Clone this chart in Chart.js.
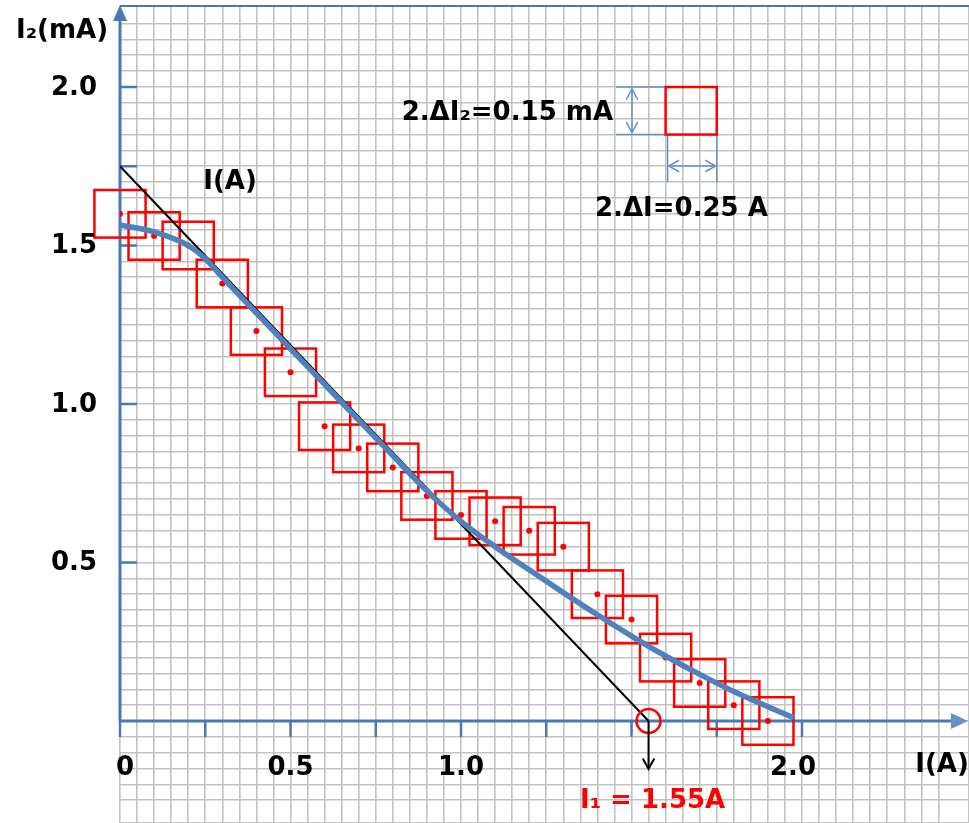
<!DOCTYPE html>
<html><head><meta charset="utf-8">
<script src="https://cdn.jsdelivr.net/npm/chart.js@4/dist/chart.umd.min.js"></script>
<style>html,body{margin:0;padding:0;background:#fff;overflow:hidden}#wrap{width:969px;height:823px;position:relative}</style>
</head><body><div id="wrap"><canvas id="c" width="969" height="823"></canvas></div>
<script>
// ---- data ----
const currentA   = [0,0.1,0.2,0.3,0.4,0.5,0.6,0.7,0.8,0.9,1.0,1.1,1.2,1.3,1.4,1.5,1.6,1.7,1.8,1.9];
const currentMA  = [1.60,1.53,1.50,1.38,1.23,1.10,0.93,0.86,0.80,0.71,0.65,0.63,0.60,0.55,0.40,0.32,0.20,0.12,0.05,0.00];
const fitA       = [0,0.1,0.2,0.25,0.3,0.4,0.5,0.6,0.7,0.8,0.9,1.0,1.1,1.2,1.3,1.4,1.5,1.6,1.7,1.8,1.9,1.97];
const fitMA      = [1.565,1.543,1.50,1.458,1.40,1.287,1.174,1.062,0.949,0.837,0.726,0.63,0.55,0.477,0.405,0.335,0.268,0.205,0.147,0.093,0.045,0.013];
const tangentA   = [0,1.55];
const tangentMA  = [1.75,0];
const errWidthA  = 0.15;   // full width of each error box (A)
const errHeightMA= 0.15;   // full height of each error box (mA)
const xTicks     = [0,0.25,0.5,0.75,1.0,1.25,1.5,1.75,2.0];
const xLabelVals = [0,0.5,1.0,2.0];
const xLabels    = ['0','0.5','1.0','2.0'];
const yTicks     = [0.5,1.0,1.5,1.75,2.0];
const yLabelVals = [0.5,1.0,1.5,2.0];
const yLabels    = ['0.5','1.0','1.5','2.0'];
const interceptA = 1.55;
const texts = {
  yTitle: 'I\u2082(mA)', xTitle: 'I(A)', lineLabel: 'I(A)',
  dI2: '2.\u0394I\u2082=0.15 mA', dI: '2.\u0394I=0.25 A', result: 'I\u2081 = 1.55A'
};

// ---- layout ----
const X_MAX = 849/341, Y_MIN = -102/317, Y_MAX = 715/317;
const AXIS = 'rgb(74,120,180)', LBLUE = 'rgb(100,145,200)', RED = '#ff0000';
const FONT = 'bold 26px "DejaVu Sans"';

function arrowHead(ctx, x, y, ang, len, open){
  ctx.beginPath();
  ctx.moveTo(x - len*Math.cos(ang - 0.5), y - len*Math.sin(ang - 0.5));
  ctx.lineTo(x, y);
  ctx.lineTo(x - len*Math.cos(ang + 0.5), y - len*Math.sin(ang + 0.5));
  if (open) ctx.stroke(); else { ctx.closePath(); ctx.fill(); }
}

const underlay = {
  id:'underlay',
  beforeDatasetsDraw(chart){
    const {ctx, scales:{x, y}} = chart;
    const x0 = x.getPixelForValue(0), y0 = y.getPixelForValue(0);
    ctx.save();
    // top frame
    ctx.strokeStyle = AXIS; ctx.lineWidth = 2;
    ctx.beginPath(); ctx.moveTo(x0, 6); ctx.lineTo(969, 6); ctx.stroke();
    // y axis
    ctx.lineWidth = 3;
    ctx.beginPath(); ctx.moveTo(x0, y0); ctx.lineTo(x0, 14); ctx.stroke();
    ctx.fillStyle = AXIS;
    ctx.beginPath(); ctx.moveTo(x0, 5); ctx.lineTo(x0-7, 21); ctx.lineTo(x0+7, 21); ctx.closePath(); ctx.fill();
    // x axis
    ctx.beginPath(); ctx.moveTo(x0, y0); ctx.lineTo(955, y0); ctx.stroke();
    ctx.fillStyle = LBLUE;
    ctx.beginPath(); ctx.moveTo(968, y0); ctx.lineTo(951, y0-8); ctx.lineTo(951, y0+8); ctx.closePath(); ctx.fill();
    // ticks
    ctx.strokeStyle = AXIS; ctx.lineWidth = 2.5;
    xTicks.forEach(v => { const px = x.getPixelForValue(v); ctx.beginPath(); ctx.moveTo(px, y0); ctx.lineTo(px, y0+16); ctx.stroke(); });
    yTicks.forEach(v => { const py = y.getPixelForValue(v); ctx.beginPath(); ctx.moveTo(x0, py); ctx.lineTo(x0+17, py); ctx.stroke(); });
    // error boxes
    ctx.strokeStyle = RED; ctx.lineWidth = 2.5;
    currentA.forEach((a, i) => {
      const l = x.getPixelForValue(a - errWidthA/2), r = x.getPixelForValue(a + errWidthA/2);
      const t = y.getPixelForValue(currentMA[i] + errHeightMA/2), b = y.getPixelForValue(currentMA[i] - errHeightMA/2);
      ctx.strokeRect(l, t, r-l, b-t);
    });
    ctx.restore();
  }
};

const overlay = {
  id:'overlay',
  afterDatasetsDraw(chart){
    const {ctx, scales:{x, y}} = chart;
    const x0 = x.getPixelForValue(0), y0 = y.getPixelForValue(0);
    ctx.save();
    ctx.textBaseline = 'middle';
    ctx.font = FONT; ctx.fillStyle = '#000';
    // tick labels
    ctx.textAlign = 'right';
    yLabelVals.forEach((v, i) => ctx.fillText(yLabels[i], 97, y.getPixelForValue(v) + 1));
    ctx.textAlign = 'center';
    xLabelVals.forEach((v, i) => ctx.fillText(xLabels[i], x.getPixelForValue(v) + (i===0?5:(i===xLabels.length-1?-9:0)), 768));
    // titles
    ctx.textAlign = 'left';
    ctx.fillText(texts.yTitle, 16, 31);
    ctx.textAlign = 'center';
    ctx.fillText(texts.xTitle, 942, 765);
    ctx.fillText(texts.lineLabel, 230, 182);
    ctx.textAlign = 'right';
    ctx.fillText(texts.dI2, 613, 113);
    ctx.textAlign = 'left';
    ctx.fillText(texts.dI, 595, 209);
    // result
    const xi = x.getPixelForValue(interceptA);
    ctx.fillStyle = RED; ctx.strokeStyle = RED; ctx.lineWidth = 2.5;
    ctx.fillText(texts.result, 580, 801);
    ctx.beginPath(); ctx.arc(xi, y0, 12, 0, Math.PI*2); ctx.stroke();
    ctx.strokeStyle = '#000'; ctx.lineWidth = 2;
    ctx.beginPath(); ctx.moveTo(xi, y0); ctx.lineTo(xi, 768); ctx.stroke();
    arrowHead(ctx, xi, 769, Math.PI/2, 12, true);
    // legend square
    const lx = x.getPixelForValue(1.6), rx = x.getPixelForValue(1.6 + errWidthA);
    const ty = y.getPixelForValue(2.0), by = y.getPixelForValue(2.0 - errHeightMA);
    ctx.strokeStyle = LBLUE; ctx.lineWidth = 1.5;
    ctx.beginPath();
    ctx.moveTo(616, ty); ctx.lineTo(lx, ty);
    ctx.moveTo(616, by); ctx.lineTo(lx, by);
    ctx.moveTo(lx+2, by); ctx.lineTo(lx+2, 182);
    ctx.moveTo(rx, by); ctx.lineTo(rx, 182);
    ctx.moveTo(632, ty+2); ctx.lineTo(632, by-2);
    ctx.moveTo(lx+3, 166); ctx.lineTo(rx-1, 166);
    ctx.stroke();
    arrowHead(ctx, 632, ty+2, -Math.PI/2, 12, true);
    arrowHead(ctx, 632, by-2, Math.PI/2, 12, true);
    arrowHead(ctx, lx+3, 166, Math.PI, 12, true);
    arrowHead(ctx, rx-1, 166, 0, 12, true);
    ctx.strokeStyle = RED; ctx.lineWidth = 2.5;
    ctx.strokeRect(lx, ty, rx-lx, by-ty);
    ctx.restore();
  }
};

const gridOpts = {color:'#c2c2c2', lineWidth:1.6, drawTicks:false};
new Chart(document.getElementById('c').getContext('2d'), {
  type:'scatter',
  data:{datasets:[
    {type:'line', data: fitA.map((a,i)=>({x:a, y:fitMA[i]})), borderColor:'rgb(79,129,189)', borderWidth:5.5,
     pointRadius:0, cubicInterpolationMode:'monotone', fill:false, borderCapStyle:'round'},
    {data: currentA.map((a,i)=>({x:a, y:currentMA[i]})), pointRadius:3, backgroundColor:RED, borderWidth:0, showLine:false},
    {type:'line', data: tangentA.map((a,i)=>({x:a, y:tangentMA[i]})), borderColor:'#000', borderWidth:2, pointRadius:0, fill:false}
  ]},
  options:{
    responsive:false, maintainAspectRatio:false, animation:false, events:[],
    layout:{padding:{left:120, top:6, right:0, bottom:0}, autoPadding:false},
    plugins:{legend:{display:false}, tooltip:{enabled:false}},
    scales:{
      x:{type:'linear', min:0, max:X_MAX, ticks:{display:false, stepSize:0.05, padding:0}, grid:gridOpts, border:{display:false},
         afterFit(s){ s.height = 0; }},
      y:{type:'linear', min:Y_MIN, max:Y_MAX, ticks:{display:false, stepSize:0.05, padding:0}, grid:gridOpts, border:{display:false},
         afterFit(s){ s.width = 0; }}
    }
  },
  plugins:[underlay, overlay]
});
</script></body></html>
